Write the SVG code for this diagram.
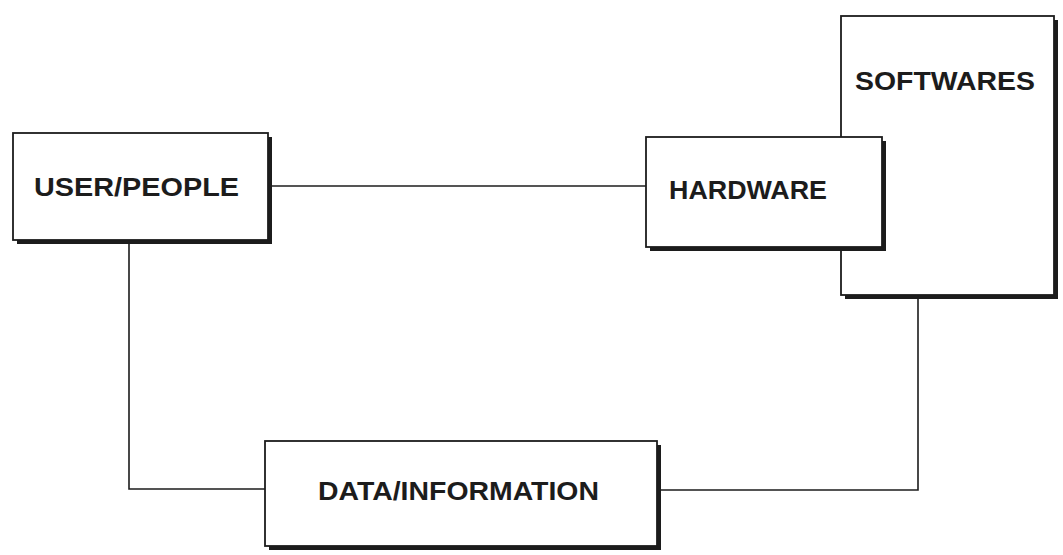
<svg xmlns="http://www.w3.org/2000/svg" width="1063" height="555" viewBox="0 0 1063 555">
  <style>
    .shadow { fill: #1c1c1c; }
    .box { fill: #ffffff; stroke: #1c1c1c; stroke-width: 1.8; }
    .label { font-family: "Liberation Sans", Arial, sans-serif; font-weight: bold; font-size: 26px; fill: #1c1c1c; }
    .wire { fill: none; stroke: #1c1c1c; stroke-width: 1.6; }
  </style>
  <rect width="1063" height="555" fill="#ffffff"/>

  <!-- connectors -->
  <g id="connectors">
    <line class="wire" x1="272" y1="186" x2="646" y2="186"/>
    <polyline class="wire" points="129,244 129,489 265,489"/>
    <polyline class="wire" points="918,299 918,490 661,490"/>
  </g>

  <g id="softwares">
    <rect class="shadow" x="845" y="20" width="213" height="279"/>
    <rect class="box" x="841" y="16" width="213" height="279"/>
    <text class="label" x="855" y="90" textLength="180" lengthAdjust="spacingAndGlyphs">SOFTWARES</text>
  </g>

  <g id="user-people">
    <rect class="shadow" x="17" y="137" width="255" height="107"/>
    <rect class="box" x="13" y="133" width="255" height="107"/>
    <text class="label" x="34" y="196" textLength="205" lengthAdjust="spacingAndGlyphs">USER/PEOPLE</text>
  </g>

  <g id="hardware">
    <rect class="shadow" x="650" y="141" width="236" height="110"/>
    <rect class="box" x="646" y="137" width="236" height="110"/>
    <text class="label" x="669" y="199" textLength="158" lengthAdjust="spacingAndGlyphs">HARDWARE</text>
  </g>

  <g id="data-information">
    <rect class="shadow" x="269" y="445" width="392" height="105"/>
    <rect class="box" x="265" y="441" width="392" height="105"/>
    <text class="label" x="318" y="500" textLength="281" lengthAdjust="spacingAndGlyphs">DATA/INFORMATION</text>
  </g>
</svg>
